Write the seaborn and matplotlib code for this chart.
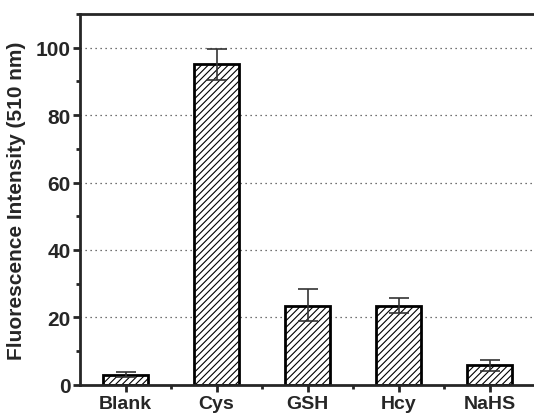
import numpy as np
import pandas as pd
import seaborn as sns
import matplotlib.pyplot as plt
from matplotlib.ticker import MultipleLocator

categories = ["Blank", "Cys", "GSH", "Hcy", "NaHS"]
values = [3.0, 95.0, 23.3, 23.5, 5.8]
err_low = [0.7, 4.5, 4.3, 2.2, 1.8]
err_high = [0.7, 4.5, 5.2, 2.3, 1.7]

df = pd.DataFrame({"sample": categories, "intensity": values})

sns.set_style("ticks")
plt.rcParams["font.family"] = ["Liberation Sans", "DejaVu Sans"]
plt.rcParams["hatch.linewidth"] = 0.8

fig = plt.figure(figsize=(5.34, 4.14), dpi=100)
ax = fig.add_axes([0.150, 0.068, 0.852, 0.896])

sns.barplot(data=df, x="sample", y="intensity", ax=ax, width=0.5,
            color="white", edgecolor="black", linewidth=2, hatch="/////",
            errorbar=None)
ax.errorbar(range(len(categories)), values, yerr=[err_low, err_high],
            fmt="none", ecolor="#333333", elinewidth=1.2, capsize=7, capthick=1.2)

ax.set_xlim(-0.5, 4.5)
ax.set_ylim(0, 110)
ax.yaxis.set_major_locator(MultipleLocator(20))
ax.yaxis.set_minor_locator(MultipleLocator(10))
ax.set_xticks(np.arange(len(categories)))
ax.set_xticks(np.arange(len(categories)) + 0.5, minor=True)
ax.set_xticklabels(categories, fontsize=14, fontweight="bold")
for lab in ax.get_yticklabels():
    lab.set_fontsize(15)
    lab.set_fontweight("bold")
ax.set_xlabel("")
ax.set_ylabel("Fluorescence Intensity (510 nm)", fontsize=15, fontweight="bold",
              labelpad=7)

for y in [20, 40, 60, 80, 100]:
    ax.axhline(y, color="#444444", linestyle=(0, (1, 3)), linewidth=0.9, zorder=0)

for s in ["left", "bottom", "top"]:
    ax.spines[s].set_linewidth(2)
ax.spines["right"].set_visible(False)
ax.tick_params(axis="both", which="major", direction="out", length=5, width=2, pad=2)
ax.tick_params(axis="both", which="minor", direction="out", length=3, width=2)

fig.savefig("out.png", dpi=100)
